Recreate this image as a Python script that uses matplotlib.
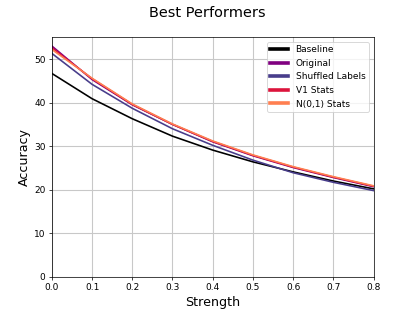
import numpy as np
import matplotlib
matplotlib.use('Agg')
import matplotlib.pyplot as plt

# strength levels
strength = [0.0, 0.1, 0.2, 0.3, 0.4, 0.5, 0.6, 0.7, 0.8]

# accuracy per method
baseline = [46.7, 40.9, 36.3, 32.3, 29.1, 26.4, 24.1, 22.0, 20.2]
original = [53.0, 45.3, 39.5, 35.0, 31.0, 27.8, 25.1, 22.8, 20.7]
shuffled = [51.3, 44.2, 38.7, 34.0, 30.2, 26.8, 23.9, 21.7, 19.8]
v1_stats = [52.6, 45.5, 39.6, 35.0, 31.1, 27.9, 25.2, 22.9, 20.8]
n01_stats = [52.2, 45.6, 39.7, 35.1, 31.2, 28.0, 25.3, 23.0, 20.9]

series = [
    ('Baseline', baseline, 'black'),
    ('Original', original, 'purple'),
    ('Shuffled Labels', shuffled, 'darkslateblue'),
    ('V1 Stats', v1_stats, 'crimson'),
    ('N(0,1) Stats', n01_stats, 'coral'),
]

fig, ax = plt.subplots(figsize=(415 / 65, 311 / 65), dpi=65)

for label, vals, color in series:
    ax.plot(strength, vals, label=label, color=color, linewidth=1.8)

ax.set_xlim(0, 0.8)
ax.set_ylim(0, 55)
ax.set_xticks(np.arange(0, 0.81, 0.1))
ax.set_yticks([0, 10, 20, 30, 40, 50])
ax.tick_params(labelsize=10)
ax.grid(True, color='#c8c8c8', linewidth=1.2)
ax.set_xlabel('Strength', fontsize=14)
ax.set_ylabel('Accuracy', fontsize=14)
fig.suptitle('Best Performers', fontsize=16, y=0.98)

leg = ax.legend(fontsize=10, loc='upper right')
for line in leg.get_lines():
    line.set_linewidth(4)

plt.savefig('out.png', dpi=65)
